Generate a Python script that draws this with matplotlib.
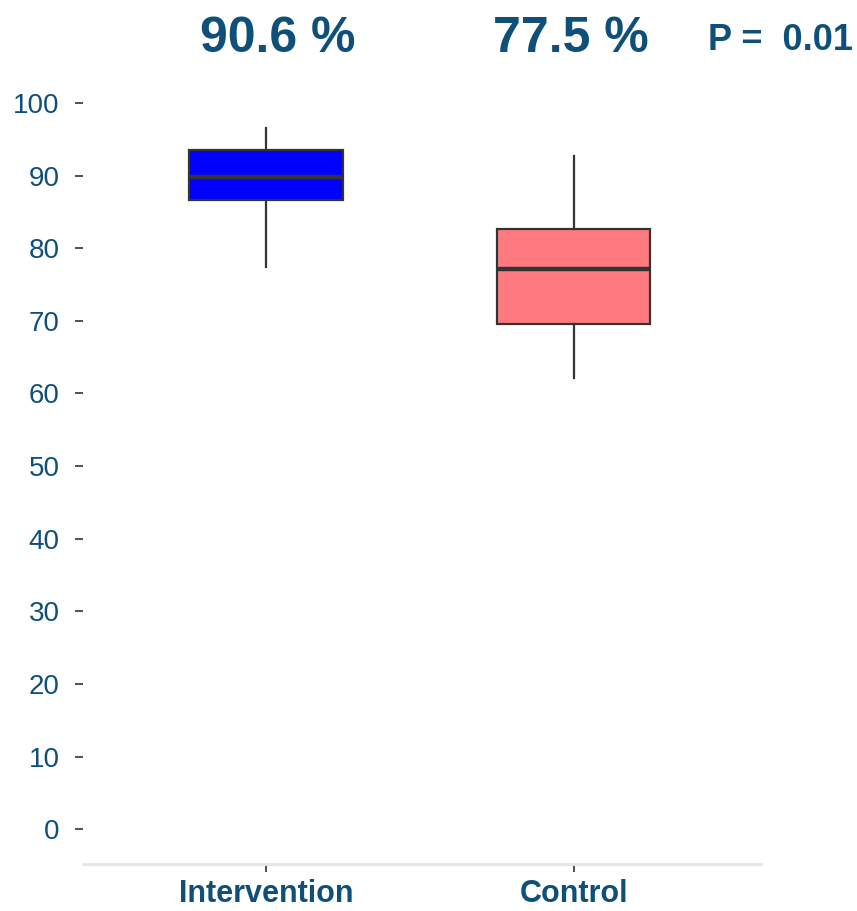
import matplotlib
matplotlib.use("Agg")
import matplotlib.pyplot as plt
import matplotlib.transforms as mtransforms

plt.rcParams["font.family"] = ["Liberation Sans", "DejaVu Sans"]

# group summaries (percent)
groups = ["Intervention", "Control"]
medians = [89.8, 77.1]
q1 = [86.6, 69.5]
q3 = [93.5, 82.6]
whisker_low = [77.4, 62.1]
whisker_high = [96.5, 92.7]
means = [90.6, 77.5]
p_value = 0.01
box_colors = ["#0000ff", "#ff7b80"]

TEXT = "#0e5079"
EDGE = "#333333"

fig = plt.figure(figsize=(8.57, 9.11), dpi=100)
ax = fig.add_axes([0.0969, 0.0516, 0.7911, 0.8672])

stats = []
for i, name in enumerate(groups):
    stats.append({
        "label": name,
        "med": medians[i],
        "q1": q1[i],
        "q3": q3[i],
        "whislo": whisker_low[i],
        "whishi": whisker_high[i],
        "fliers": [],
    })

positions = list(range(1, len(groups) + 1))
bp = ax.bxp(
    stats,
    positions=positions,
    widths=0.5,
    patch_artist=True,
    showcaps=False,
    showfliers=False,
    boxprops=dict(edgecolor=EDGE, linewidth=1.6),
    whiskerprops=dict(color=EDGE, linewidth=1.6),
    medianprops=dict(color=EDGE, linewidth=3.2),
)
for patch, c in zip(bp["boxes"], box_colors):
    patch.set_facecolor(c)

ax.set_xlim(0.404, 2.61)
ax.set_ylim(-4.8, 104)
ax.set_yticks(range(0, 101, 10))
ax.set_xticks(positions)
ax.set_xticklabels(groups, fontsize=22, fontweight="bold", color=TEXT)

for side in ["top", "right", "left"]:
    ax.spines[side].set_visible(False)
ax.spines["bottom"].set_color("#e6e6e6")
ax.spines["bottom"].set_linewidth(2)

ax.tick_params(axis="y", length=6, width=1.2, color=EDGE, pad=11,
               labelsize=20, labelcolor=TEXT)
ax.tick_params(axis="x", length=6, width=1.2, color=EDGE, pad=5)

# mean percentages above each box
trans = mtransforms.blended_transform_factory(ax.transData, fig.transFigure)
for x, m in zip([1.036, 1.99], means):
    ax.text(x, 0.943, f"{m:.1f} %", transform=trans, ha="center", va="baseline",
            fontsize=36, fontweight="bold", color=TEXT)

fig.text(0.826, 0.945, f"P =  {p_value:.2f}", ha="left", va="baseline",
         fontsize=26, fontweight="bold", color=TEXT)

fig.savefig("out.png", dpi=100)
